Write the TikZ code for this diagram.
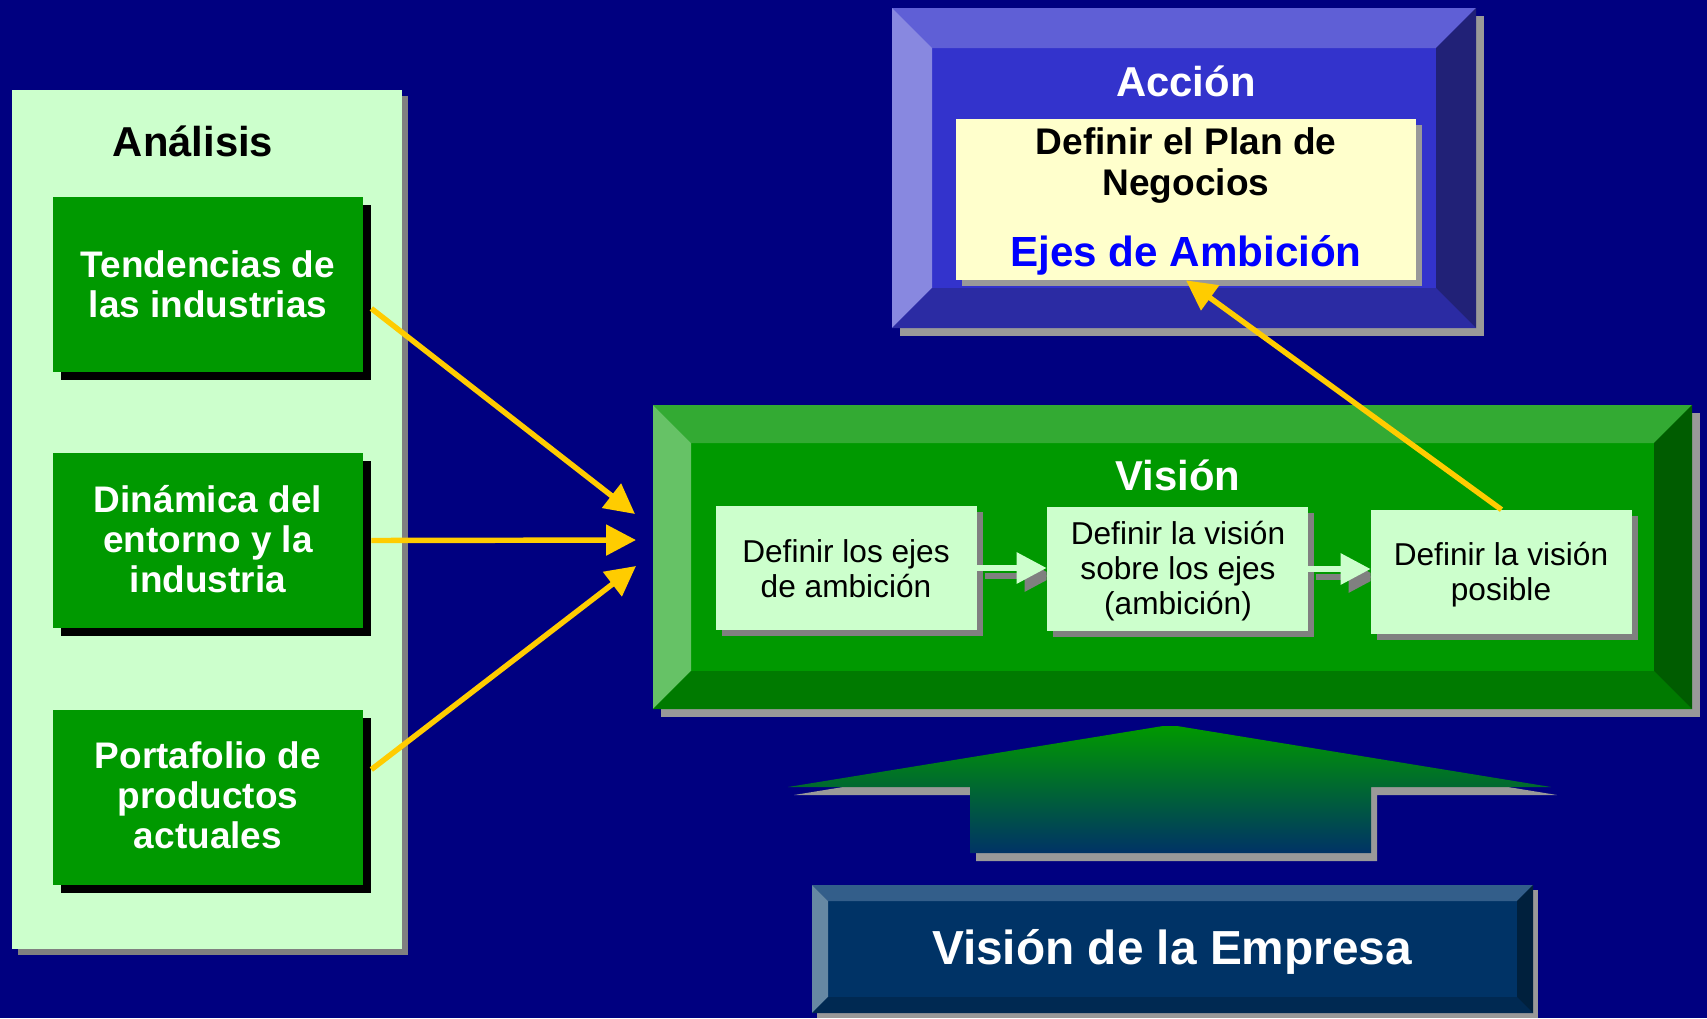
\documentclass[tikz,border=0pt]{standalone}
\usepackage{fontspec}
\setmainfont{Liberation Sans}
\usetikzlibrary{arrows.meta,fit,shadows}
\definecolor{bg}{RGB}{0,0,128}
\definecolor{lgreen}{RGB}{204,255,204}
\definecolor{dgreen}{RGB}{0,153,0}
\definecolor{shadowgray}{RGB}{153,153,153}
\definecolor{shgray}{RGB}{128,128,128}
\definecolor{ayellow}{RGB}{255,204,0}
\definecolor{lyellow}{RGB}{255,255,204}
\definecolor{ejescol}{RGB}{0,0,255}
\definecolor{actop}{RGB}{95,95,214}
\definecolor{acleft}{RGB}{136,136,224}
\definecolor{acface}{RGB}{51,51,204}
\definecolor{acbottom}{RGB}{43,43,163}
\definecolor{acright}{RGB}{33,33,119}
\definecolor{vitop}{RGB}{51,170,51}
\definecolor{vileft}{RGB}{102,194,102}
\definecolor{viface}{RGB}{0,153,0}
\definecolor{vibottom}{RGB}{0,122,0}
\definecolor{viright}{RGB}{0,92,0}
\definecolor{emtop}{RGB}{51,94,138}
\definecolor{emleft}{RGB}{102,136,163}
\definecolor{emface}{RGB}{0,51,102}
\definecolor{embottom}{RGB}{0,41,82}
\definecolor{emright}{RGB}{0,32,61}
\definecolor{artop}{RGB}{0,153,0}
\definecolor{armid}{RGB}{0,118,62}
\definecolor{arbot}{RGB}{0,51,102}
\newcommand\bevelbox[6]{%
 \fill[#1face] (#2,#3) rectangle (#4,#5);
 \fill[#1top] (#2,#3) -- (#4,#3) -- (#4-#6,#3+#6) -- (#2+#6,#3+#6) -- cycle;
 \fill[#1left] (#2,#3) -- (#2+#6,#3+#6) -- (#2+#6,#5-#6) -- (#2,#5) -- cycle;
 \fill[#1bottom] (#2,#5) -- (#2+#6,#5-#6) -- (#4-#6,#5-#6) -- (#4,#5) -- cycle;
 \fill[#1right] (#4,#3) -- (#4-#6,#3+#6) -- (#4-#6,#5-#6) -- (#4,#5) -- cycle;
}
\begin{document}
\begin{tikzpicture}[x=0.02cm,y=-0.02cm,
  gbox/.style={fill=dgreen, inner sep=0pt, draw=none,
    drop shadow={shadow xshift=0.16cm, shadow yshift=-0.16cm, fill=black, opacity=1}},
  sbox/.style={fill=lgreen, inner sep=0pt, draw=none,
    drop shadow={shadow xshift=0.12cm, shadow yshift=-0.12cm, fill=shgray, opacity=1}},
  ybox/.style={fill=lyellow, inner sep=0pt, draw=none,
    drop shadow={shadow xshift=0.12cm, shadow yshift=-0.12cm, fill=shadowgray, opacity=1}},
  title/.style={inner sep=0pt, font=\fontsize{23.8}{26}\selectfont\bfseries},
  gtext/.style={inner sep=0pt, align=center, text=white, font=\fontsize{21.05}{22.76}\selectfont\bfseries},
  stext/.style={inner sep=0pt, align=center, text=black, font=\fontsize{18}{19.9}\selectfont},
  plantext/.style={inner sep=0pt, align=center, text=black, font=\fontsize{21.1}{22.8}\selectfont\bfseries},
  ejestext/.style={inner sep=0pt, text=ejescol, font=\fontsize{24}{26}\selectfont\bfseries},
  emptext/.style={inner sep=0pt, text=white, font=\fontsize{27.2}{30}\selectfont\bfseries},
  yarrow/.style={draw=ayellow, line width=3.1pt, -{Triangle[length=17pt,width=17pt]}},
  sarrow/.style={line width=3.41pt, -{Triangle[length=17.07pt,width=17.07pt]}}
]
\useasboundingbox (0,0) rectangle (1707,1018);
\fill[bg] (0,0) rectangle (1707,1018);

% ---------- Analisis panel
\fill[shgray] (18,96) rectangle (408,955);
\fill[lgreen] (12,90) rectangle (402,949);
\node[title, anchor=base] (antit) at (193,156) {Análisis};
\node[gbox, fit={(53,197) (363,372)}] (t1) {};
\node[gtext, anchor=base] (t1txt) at (208,317) {Tendencias de\\las industrias};
\node[gbox, fit={(53,453) (363,628)}] (t2) {};
\node[gtext, anchor=base] (t2txt) at (208,592) {Dinámica del\\entorno y la\\industria};
\node[gbox, fit={(53,710) (363,885)}] (t3) {};
\node[gtext, anchor=base] (t3txt) at (208,848) {Portafolio de\\productos\\actuales};

% ---------- Vision panel
\fill[shadowgray] (661,413) rectangle (1700,717);
\bevelbox{vi}{653}{405}{1692}{709}{38}
\node[title, text=white, anchor=base] (vitit) at (1178,490) {Visión};

\node[sbox, fit={(716,506) (977,630)}] (a) {};
\node[sbox, fit={(1047,507) (1308,631)}] (b) {};
\node[sbox, fit={(1371,510) (1632,634)}] (c) {};

\begin{scope}
  \clip ([yshift=-100]a.east) rectangle ([yshift=100]b.west);
  \draw[sarrow, draw=shgray, fill=shgray] ([shift={(8,8)}]a.east) -- ([shift={(8,8)}]a.east -| b.west);
\end{scope}
\begin{scope}
  \clip ([yshift=-100]b.east) rectangle ([yshift=100]c.west);
  \draw[sarrow, draw=shgray, fill=shgray] ([shift={(8,8)}]b.east) -- ([shift={(8,8)}]b.east -| c.west);
\end{scope}
\draw[sarrow, draw=lgreen, fill=lgreen] (a.east) -- (a.east -| b.west);
\draw[sarrow, draw=lgreen, fill=lgreen] (b.east) -- (b.east -| c.west);

\node[stext, anchor=base] (atxt) at (846,597) {Definir los ejes\\de ambición};
\node[stext, anchor=base] (btxt) at (1178,614) {Definir la visión\\sobre los ejes\\(ambición)};
\node[stext, anchor=base] (ctxt) at (1501,600) {Definir la visión\\posible};

% ---------- Accion panel
\fill[shadowgray] (900,16) rectangle (1484,336);
\bevelbox{ac}{892}{8}{1476}{328}{40}
\node[title, text=white, anchor=base] (actit) at (1186,96) {Acción};
\node[ybox, fit={(956,119) (1416,280)}] (plan) {};
\node[plantext, anchor=base] (plantxt) at (1186,195) {Definir el Plan de\\Negocios};
\node[ejestext, anchor=base] (ejes) at (1186,266) {Ejes de Ambición};

% ---------- big up arrow
\fill[shadowgray, shift={(6,8)}] (1163,726) -- (1177,726) -- (1551,787) -- (1371,787) -- (1371,853) -- (970,853) -- (970,787) -- (788,787) -- cycle;
\shade[top color=artop, middle color=armid, bottom color=arbot] (1163,726) -- (1177,726) -- (1551,787) -- (1371,787) -- (1371,853) -- (970,853) -- (970,787) -- (788,787) -- cycle;

% ---------- Vision de la Empresa
\fill[shadowgray] (817,890) rectangle (1538,1018);
\bevelbox{em}{812}{885}{1533}{1013}{16}
\node[emptext, anchor=base] (emp) at (1172,964) {Visión de la Empresa};

% ---------- yellow arrows
\coordinate (i1) at (635,514);
\coordinate (i2) at (636,540);
\coordinate (i3) at (636,566);
\draw[yarrow] ([shift={(8,24)}]t1.east) -- (i1);
\draw[yarrow] ([shift={(8,0)}]t2.east) -- (i2);
\draw[yarrow] ([shift={(8,-28)}]t3.east) -- (i3);
\draw[yarrow] (c.north) -- (plan.south);
\end{tikzpicture}
\end{document}
